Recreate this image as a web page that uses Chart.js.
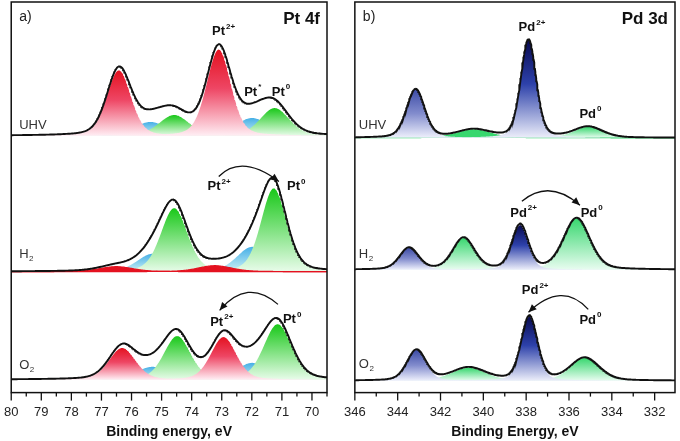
<!DOCTYPE html>
<html>
<head>
<meta charset="utf-8">
<script src="https://cdn.jsdelivr.net/npm/chart.js@4.4.0/dist/chart.umd.min.js"></script>
<style>
  html, body { margin: 0; padding: 0; background: #fff; }
  .wrap { display: flex; width: 680px; height: 441px; }
  .panel { width: 340px; height: 441px; }
</style>
</head>
<body>
<div class="wrap">
  <div class="panel"><canvas id="ptChart" width="340" height="441"></canvas></div>
  <div class="panel"><canvas id="pdChart" width="340" height="441"></canvas></div>
</div>
<script>
// Pt 4f fitted components: position (eV), height (a.u.), FWHM (eV)
const ptKinds = ['red', 'cyan', 'green', 'red', 'cyan', 'green'];

const ptUhvCenter = [76.42, 75.37, 74.58, 73.10, 71.99, 71.24];
const ptUhvHeight = [66, 14, 21, 87, 18, 28];
const ptUhvFwhm   = [0.95, 1.30, 1.20, 0.95, 1.30, 1.15];

const ptH2Center = [76.51, 75.30, 74.58, 73.23, 71.99, 71.27];
const ptH2Height = [5, 18, 64, 6, 25, 84];
const ptH2Fwhm   = [1.30, 1.20, 1.05, 1.30, 1.20, 1.00];

const ptO2Center = [76.31, 75.30, 74.48, 72.94, 71.99, 71.14];
const ptO2Height = [32, 13, 44, 43, 17, 56];
const ptO2Fwhm   = [1.05, 1.30, 1.05, 1.00, 1.20, 1.10];

// Pd 3d fitted components
const pdKinds = ['blueLight', 'mint', 'blue', 'mint'];

const pdUhvCenter = [343.16, 340.45, 337.89, 335.10];
const pdUhvHeight = [49, 8, 99, 11];
const pdUhvFwhm   = [1.00, 1.80, 0.85, 1.60];

const pdH2Center = [343.47, 340.92, 338.28, 335.64];
const pdH2Height = [22, 32, 45, 52];
const pdH2Fwhm   = [1.05, 1.20, 0.90, 1.45];

const pdO2Center = [343.12, 340.68, 337.85, 335.26];
const pdO2Height = [31, 13, 65, 23];
const pdO2Fwhm   = [1.05, 1.90, 0.90, 1.60];

// tick labels
const ptTickLabels = [80, 79, 78, 77, 76, 75, 74, 73, 72, 71, 70];
const pdTickLabels = [346, 344, 342, 340, 338, 336, 334, 332];

// vertical stacking of the three spectra (UHV, H2, O2)
const ptOffsets = [259, 122, 13];
const pdOffsets = [257, 124, 12];

Chart.defaults.font.family = '"Liberation Sans", Arial, sans-serif';

const stops = {
  red:       [[0, 'rgb(228,18,32)'], [0.45, 'rgb(238,70,100)'], [1, 'rgb(255,238,244)']],
  cyan:      [[0, 'rgb(70,175,230)'], [1, 'rgb(205,242,246)']],
  green:     [[0, 'rgb(25,200,25)'], [1, 'rgb(232,252,234)']],
  blue:      [[0, 'rgb(8,10,80)'], [0.45, 'rgb(45,65,170)'], [1, 'rgb(236,238,250)']],
  blueLight: [[0, 'rgb(60,75,165)'], [0.5, 'rgb(130,140,205)'], [1, 'rgb(238,240,252)']],
  mint:      [[0, 'rgb(55,215,110)'], [1, 'rgb(232,252,240)']]
};
const drawRank = { cyan: 3, green: 2, red: 1, mint: 2, blueLight: 1, blue: 1 };

function peakShape(e, c, h, w) {
  const d = (e - c) / (w / 2);
  return h * (0.72 * Math.exp(-Math.LN2 * d * d) + 0.28 / (1 + d * d));
}

function fillFor(kind, base, h) {
  return (context) => {
    const chart = context.chart;
    if (!chart.chartArea) return null;
    if (h < 10) return stops[kind][0][1];
    const y = chart.scales.y;
    const g = chart.ctx.createLinearGradient(0, y.getPixelForValue(base + h), 0, y.getPixelForValue(base));
    stops[kind].forEach(([o, c]) => g.addColorStop(o, c));
    return g;
  };
}

function drawIon(ctx, main, sup, cx, cy, size) {
  ctx.font = 'bold ' + size + 'px "Liberation Sans", Arial, sans-serif';
  const w1 = ctx.measureText(main).width;
  ctx.font = 'bold ' + Math.round(size * 0.6) + 'px "Liberation Sans", Arial, sans-serif';
  const w2 = ctx.measureText(sup).width;
  const x0 = cx - (w1 + w2 + 1) / 2;
  ctx.font = 'bold ' + size + 'px "Liberation Sans", Arial, sans-serif';
  ctx.fillText(main, x0, cy);
  ctx.font = 'bold ' + Math.round(size * 0.6) + 'px "Liberation Sans", Arial, sans-serif';
  ctx.fillText(sup, x0 + w1 + 1, cy - size * 0.38);
}

function drawArrow(ctx, p0, c, p1) {
  ctx.beginPath();
  ctx.moveTo(p0.x, p0.y);
  ctx.quadraticCurveTo(c.x, c.y, p1.x, p1.y);
  ctx.stroke();
  const a = Math.atan2(p1.y - c.y, p1.x - c.x);
  const L = 8, W = 3.5;
  ctx.beginPath();
  ctx.moveTo(p1.x, p1.y);
  ctx.lineTo(p1.x - L * Math.cos(a) + W * Math.sin(a), p1.y - L * Math.sin(a) - W * Math.cos(a));
  ctx.lineTo(p1.x - L * Math.cos(a) - W * Math.sin(a), p1.y - L * Math.sin(a) + W * Math.cos(a));
  ctx.closePath();
  ctx.fill();
}

const panelDecor = {
  id: 'panelDecor',
  afterDraw(chart, args, o) {
    const { ctx, chartArea: a, scales: { x, y } } = chart;
    ctx.save();
    ctx.strokeStyle = '#111';
    ctx.fillStyle = '#111';
    // frame
    ctx.lineWidth = 1.5;
    ctx.strokeRect(a.left, a.top, a.width, a.height);
    // tick marks, long on labelled ones
    ctx.lineWidth = 1.3;
    x.ticks.forEach(t => {
      const major = o.major.some(m => Math.abs(m - t.value) < 1e-6);
      const px = x.getPixelForValue(t.value);
      ctx.beginPath();
      ctx.moveTo(px, a.bottom);
      ctx.lineTo(px, a.bottom + (major ? 8 : 4));
      ctx.stroke();
    });
    ctx.textBaseline = 'middle';
    // panel tag and title
    ctx.font = '14px "Liberation Sans", Arial, sans-serif';
    ctx.textAlign = 'left';
    ctx.fillStyle = '#222';
    ctx.fillText(o.tag, a.left + 8, a.top + 15);
    ctx.font = 'bold 17px "Liberation Sans", Arial, sans-serif';
    ctx.textAlign = 'right';
    ctx.fillStyle = '#111';
    ctx.fillText(o.title, a.right - 7, a.top + 17);
    // spectrum names
    ctx.textAlign = 'left';
    ctx.fillStyle = '#333';
    o.names.forEach(n => {
      const py = y.getPixelForValue(n.y);
      ctx.font = '13px "Liberation Sans", Arial, sans-serif';
      ctx.fillText(n.t, a.left + o.nameDx, py);
      if (n.sub) {
        const w = ctx.measureText(n.t).width;
        ctx.font = '8px "Liberation Sans", Arial, sans-serif';
        ctx.fillText(n.sub, a.left + o.nameDx + w + 0.5, py + 4);
      }
    });
    // state labels
    ctx.fillStyle = '#111';
    o.labels.forEach(l => {
      drawIon(ctx, l.t, l.s, x.getPixelForValue(l.x), y.getPixelForValue(l.y), 13);
    });
    // arrows
    ctx.lineWidth = 1.3;
    o.arrows.forEach(r => {
      const P = p => ({ x: x.getPixelForValue(p[0]), y: y.getPixelForValue(p[1]) });
      drawArrow(ctx, P(r[0]), P(r[1]), P(r[2]));
    });
    ctx.restore();
  }
};

function buildChart(id, cfg) {
  const grid = [];
  for (let e = cfg.min; e <= cfg.max + 1e-9; e += 0.02) grid.push(e);
  const datasets = [];
  cfg.spectra.forEach((s, i) => {
    const base = cfg.offsets[i];
    const env = grid.map(() => 0);
    s.center.forEach((c, k) => {
      const kind = cfg.kinds[k];
      const vals = grid.map(e => peakShape(e, c, s.height[k], s.fwhm[k]));
      vals.forEach((v, j) => { env[j] += v; });
      const small = s.height[k] < 10;
      datasets.push({
        data: grid.map((e, j) => ({ x: e, y: base + vals[j] })),
        fill: { value: base },
        backgroundColor: fillFor(kind, base, s.height[k]),
        borderColor: small ? stops[kind][0][1] : 'rgba(0,0,0,0)',
        borderWidth: small ? 1.2 : 0,
        pointRadius: 0,
        order: 10 + drawRank[kind]
      });
    });
    datasets.push({
      data: grid.map((e, j) => ({ x: e, y: base + env[j] })),
      fill: false,
      borderColor: '#111',
      borderWidth: 1.9,
      pointRadius: 0,
      order: 0
    });
  });

  return new Chart(document.getElementById(id), {
    type: 'line',
    data: { datasets },
    plugins: [panelDecor],
    options: {
      responsive: false,
      animation: false,
      events: [],
      layout: { padding: cfg.padding },
      scales: {
        x: {
          type: 'linear',
          reverse: true,
          min: cfg.min,
          max: cfg.max,
          grid: { display: false, drawTicks: true, tickLength: 8 },
          border: { display: false },
          ticks: {
            stepSize: cfg.step,
            includeBounds: false,
            autoSkip: false,
            maxRotation: 0,
            padding: 4,
            color: '#222',
            font: { size: 13 },
            callback: (v) => cfg.ticks.some(t => Math.abs(t - v) < 1e-6) ? String(Math.round(v)) : ''
          },
          title: {
            display: true,
            text: cfg.axisTitle,
            color: '#111',
            font: { size: 14, weight: 'bold' },
            padding: { top: 0, bottom: 0 }
          }
        },
        y: { display: false, min: 0, max: 394 }
      },
      plugins: {
        legend: { display: false },
        tooltip: { enabled: false },
        panelDecor: cfg.decor
      }
    }
  });
}

buildChart('ptChart', {
  min: 69.5, max: 80, step: 0.5,
  ticks: ptTickLabels,
  axisTitle: 'Binding energy, eV',
  padding: { left: 7, right: 13, top: 2, bottom: 0 },
  kinds: ptKinds,
  offsets: ptOffsets,
  spectra: [
    { center: ptUhvCenter, height: ptUhvHeight, fwhm: ptUhvFwhm },
    { center: ptH2Center, height: ptH2Height, fwhm: ptH2Fwhm },
    { center: ptO2Center, height: ptO2Height, fwhm: ptO2Fwhm }
  ],
  decor: {
    tag: 'a)', title: 'Pt 4f', major: ptTickLabels, nameDx: 8,
    names: [{ t: 'UHV', y: 270 }, { t: 'H', sub: '2', y: 139 }, { t: 'O', sub: '2', y: 27 }],
    labels: [
      { t: 'Pt', s: '2+', x: 72.94, y: 364 },
      { t: 'Pt', s: '*', x: 71.97, y: 303 },
      { t: 'Pt', s: '0', x: 71.03, y: 303 },
      { t: 'Pt', s: '2+', x: 73.09, y: 208 },
      { t: 'Pt', s: '0', x: 70.52, y: 208 },
      { t: 'Pt', s: '2+', x: 73.00, y: 71 },
      { t: 'Pt', s: '0', x: 70.66, y: 74 }
    ],
    arrows: [
      [[73.10, 218], [72.34, 241], [71.10, 213]],
      [[71.13, 89], [72.15, 116], [73.07, 83]]
    ]
  }
});

buildChart('pdChart', {
  min: 331.05, max: 346, step: 1,
  ticks: pdTickLabels,
  axisTitle: 'Binding Energy, eV',
  padding: { left: 14, right: 5, top: 2, bottom: 0 },
  kinds: pdKinds,
  offsets: pdOffsets,
  spectra: [
    { center: pdUhvCenter, height: pdUhvHeight, fwhm: pdUhvFwhm },
    { center: pdH2Center, height: pdH2Height, fwhm: pdH2Fwhm },
    { center: pdO2Center, height: pdO2Height, fwhm: pdO2Fwhm }
  ],
  decor: {
    tag: 'b)', title: 'Pd 3d', major: pdTickLabels, nameDx: 4,
    names: [{ t: 'UHV', y: 270 }, { t: 'H', sub: '2', y: 139 }, { t: 'O', sub: '2', y: 28 }],
    labels: [
      { t: 'Pd', s: '2+', x: 337.73, y: 368 },
      { t: 'Pd', s: '0', x: 335.00, y: 281 },
      { t: 'Pd', s: '2+', x: 338.12, y: 181 },
      { t: 'Pd', s: '0', x: 334.94, y: 181 },
      { t: 'Pd', s: '2+', x: 337.58, y: 103 },
      { t: 'Pd', s: '0', x: 335.00, y: 73 }
    ],
    arrows: [
      [[338.20, 193], [336.92, 216], [335.49, 189]],
      [[335.10, 84], [336.34, 113], [337.89, 81]]
    ]
  }
});
</script>
</body>
</html>
